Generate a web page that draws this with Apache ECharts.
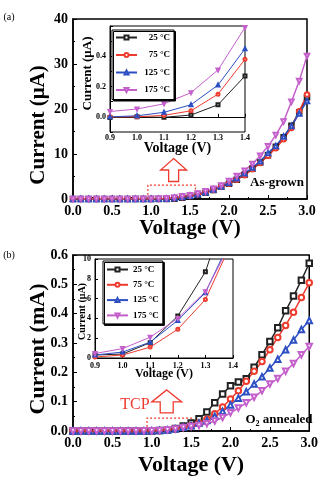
<!DOCTYPE html>
<html>
<head>
<meta charset="utf-8">
<title>I-V curves</title>
<script src="https://cdn.jsdelivr.net/npm/echarts@6.0.0/dist/echarts.min.js"></script>
<style>
  html, body { margin: 0; padding: 0; background: #fff; }
  #main { width: 321px; height: 477px; }
</style>
</head>
<body>
<div id="main"></div>
<script>
var temps = ['25 °C', '75 °C', '125 °C', '175 °C'];
var colors = ['#222222', '#ee3b2e', '#2d4fc4', '#c45fcb'];
var symbols = ['emptyRect', 'emptyCircle', 'emptyTriangle', 'emptyTriangle'];
var symbolTurn = [0, 0, 0, 180];

var volts = [0.0, 0.1, 0.2, 0.3, 0.4, 0.5, 0.6, 0.7, 0.8, 0.9, 1.0, 1.1, 1.2, 1.3, 1.4, 1.5,
             1.6, 1.7, 1.8, 1.9, 2.0, 2.1, 2.2, 2.3, 2.4, 2.5, 2.6, 2.7, 2.8, 2.9, 3.0];
var insetVolts = [0.9, 1.0, 1.1, 1.2, 1.3, 1.4];

// (a) as-grown, current in uA
var grown25 = [0, 0, 0, 0, 0, 0, 0, 0, 0, 0, 0, 0, 0.01, 0.08, 0.27, 0.55,
               0.95, 1.4, 2.0, 2.7, 3.4, 4.3, 5.4, 6.7, 8.1, 9.7, 11.6, 13.7, 16.3, 19.3, 22.6];
var grown75 = [0, 0, 0, 0, 0, 0, 0, 0, 0, 0, 0, 0.01, 0.04, 0.15, 0.38, 0.65,
               1.0, 1.45, 2.0, 2.7, 3.4, 4.3, 5.3, 6.6, 8.0, 9.6, 11.3, 13.3, 15.8, 19.5, 23.2];
var grown125 = [0, 0, 0, 0, 0, 0, 0, 0, 0, 0, 0.01, 0.03, 0.08, 0.21, 0.45, 0.7,
                1.05, 1.5, 2.1, 2.8, 3.6, 4.6, 5.7, 7.0, 8.4, 10.2, 11.8, 13.9, 16.2, 19.0, 21.8];
var grown175 = [0.01, 0.01, 0.01, 0.01, 0.02, 0.02, 0.02, 0.02, 0.03, 0.035, 0.05, 0.09, 0.16, 0.31, 0.59, 0.85,
                1.2, 1.7, 2.3, 3.0, 4.0, 5.1, 6.3, 7.8, 9.6, 11.7, 14.2, 17.2, 21.6, 26.2, 31.8];
// (a) inset, uA
var grownIn25 = [-0.005, 0.0, -0.003, 0.012, 0.08, 0.27];
var grownIn75 = [0.0, 0.0, 0.01, 0.04, 0.15, 0.38];
var grownIn125 = [0.0, 0.007, 0.03, 0.08, 0.21, 0.45];
var grownIn175 = [0.035, 0.052, 0.086, 0.16, 0.31, 0.59];

// (b) O2 annealed, current in mA
var ann25 = [0, 0, 0, 0, 0.0001, 0.0001, 0.0001, 0.0002, 0.0002, 0.0003, 0.0004, 0.0015, 0.0043, 0.0087, 0.017, 0.027,
             0.042, 0.065, 0.096, 0.126, 0.154, 0.167, 0.178, 0.217, 0.26, 0.305, 0.352, 0.41, 0.46, 0.514, 0.572];
var ann75 = [0, 0, 0, 0, 0, 0.0001, 0.0001, 0.0001, 0.0001, 0.0001, 0.0003, 0.0011, 0.0029, 0.0059, 0.012, 0.018,
             0.027, 0.04, 0.059, 0.082, 0.109, 0.137, 0.17, 0.204, 0.237, 0.277, 0.319, 0.36, 0.405, 0.455, 0.505];
var ann125 = [0, 0, 0, 0.0001, 0.0001, 0.0001, 0.0001, 0.0002, 0.0002, 0.0003, 0.0006, 0.0016, 0.0038, 0.0066, 0.0125, 0.018,
              0.027, 0.036, 0.05, 0.067, 0.089, 0.112, 0.134, 0.16, 0.185, 0.215, 0.245, 0.277, 0.31, 0.346, 0.377];
var ann175 = [0.0001, 0.0001, 0.0001, 0.0001, 0.0002, 0.0002, 0.0002, 0.0003, 0.0003, 0.00045, 0.00095, 0.0021, 0.004, 0.0067, 0.012, 0.015,
              0.019, 0.025, 0.034, 0.046, 0.062, 0.078, 0.096, 0.115, 0.137, 0.16, 0.179, 0.204, 0.23, 0.26, 0.288];
// (b) inset, uA
var annIn25 = [0.3, 0.4, 1.55, 4.25, 8.7, 17];
var annIn75 = [0.1, 0.3, 1.1, 2.9, 5.9, 12];
var annIn125 = [0.3, 0.6, 1.6, 3.8, 6.6, 12.5];
var annIn175 = [0.45, 0.95, 2.1, 4.0, 6.7, 12];

// tick labels shown on the as-grown inset's y axis
var insetATicks = ['0.0', '0.2', '0.4'];

// dotted "zoom" boxes on the main plots (data units)
var boxA = [[0.96, 0], [0.96, 3.1], [1.57, 3.1], [1.57, 0]];
var boxB = [[0.94, 0], [0.94, 0.044], [1.52, 0.044], [1.52, 0]];

var serif = 'Liberation Serif';

function pairs(xs, ys) {
  return xs.map(function (x, i) { return [x, ys[i]]; });
}

function curves(sets, xs, gi, size, width) {
  return sets.map(function (ys, k) {
    return {
      name: temps[k], type: 'line', xAxisIndex: gi, yAxisIndex: gi,
      data: pairs(xs, ys),
      symbol: symbols[k], symbolRotate: symbolTurn[k], symbolSize: size,
      color: colors[k],
      lineStyle: { color: colors[k], width: width },
      itemStyle: { color: colors[k], borderWidth: 1 },
      clip: true, silent: true, animation: false
    };
  });
}

function xAxisOf(gi, min, max, step, fs, margin, nameSize, nameGap) {
  return {
    type: 'value', gridIndex: gi, min: min, max: max, interval: step,
    axisLine: { show: true, lineStyle: { color: '#000', width: gi % 2 ? 1 : 1.5 } },
    axisTick: { show: true, inside: true, length: gi % 2 ? 3 : 4, lineStyle: { color: '#000' } },
    minorTick: { show: gi % 2 === 0, splitNumber: 2, length: 2, lineStyle: { color: '#000' } },
    splitLine: { show: false },
    axisLabel: {
      color: '#000', fontFamily: serif, fontWeight: 'bold', fontSize: fs, margin: margin,
      formatter: function (v) { return v.toFixed(1); }
    },
    name: 'Voltage (V)', nameLocation: 'middle', nameGap: nameGap, nameMoveOverlap: false,
    nameTextStyle: { color: '#000', fontFamily: serif, fontWeight: 'bold', fontSize: nameSize }
  };
}

function yAxisOf(gi, min, max, step, fs, margin, digits, nameSize, nameGap, pad) {
  return {
    type: 'value', gridIndex: gi, min: min, max: max, interval: step,
    axisLine: { show: true, lineStyle: { color: '#000', width: gi % 2 ? 1 : 1.5 } },
    axisTick: { show: true, inside: true, length: gi % 2 ? 3 : 4, lineStyle: { color: '#000' } },
    minorTick: { show: gi % 2 === 0, splitNumber: 2, length: 2, lineStyle: { color: '#000' } },
    splitLine: { show: false },
    axisLabel: {
      color: '#000', fontFamily: serif, fontWeight: 'bold', fontSize: fs, margin: margin,
      formatter: function (v) { return v.toFixed(digits); }
    },
    name: gi === 2 ? 'Current (mA)' : 'Current (μA)', nameLocation: 'middle', nameGap: nameGap,
    nameMoveOverlap: false,
    nameTextStyle: { color: '#000', fontFamily: serif, fontWeight: 'bold', fontSize: nameSize, padding: pad }
  };
}

function legendOf(left, top, gap, pad, align) {
  return {
    left: left, top: top, orient: 'vertical', data: temps, selectedMode: false,
    itemWidth: 21, itemHeight: 5, itemGap: gap, padding: pad,
    backgroundColor: '#fff', borderColor: '#000', borderWidth: 1,
    shadowColor: '#000', shadowBlur: 0, shadowOffsetX: 1.5, shadowOffsetY: 1.5,
    formatter: function (name) { return '{t|' + name + '}'; },
    textStyle: {
      color: '#000', fontFamily: serif, fontWeight: 'bold', fontSize: 9,
      rich: { t: { width: 28, align: align, fontFamily: serif, fontWeight: 'bold', fontSize: 9, color: '#000' } }
    }
  };
}

var insetA = yAxisOf(1, -0.1, 0.6, 0.1, 8, 4, 1, 13, 16, [0, 0, 0, 11]);
insetA.axisLabel.formatter = function (v) {
  var t = v.toFixed(1);
  return insetATicks.indexOf(t) >= 0 ? t : '';
};

var dotted = { color: '#ee3b2e', width: 1.2, type: [2, 2] };

var option = {
  backgroundColor: '#fff',
  animation: false,
  grid: [
    { left: 73, top: 19, width: 234, height: 180, show: true, borderColor: '#000', borderWidth: 1.5, backgroundColor: '#fff' },
    { left: 110, top: 26, width: 135, height: 106, show: true, borderColor: '#000', borderWidth: 1, backgroundColor: '#fff' },
    { left: 73, top: 255, width: 241, height: 178, show: true, borderColor: '#000', borderWidth: 1.5, backgroundColor: '#fff' },
    { left: 95, top: 259, width: 138, height: 99, show: true, borderColor: '#000', borderWidth: 1, backgroundColor: '#fff' }
  ],
  xAxis: [
    xAxisOf(0, 0, 3, 0.5, 14, 5, 21, 19),
    xAxisOf(1, 0.9, 1.4, 0.1, 8, 2, 14, 9),
    xAxisOf(2, 0, 3, 0.5, 14, 5, 22, 23),
    xAxisOf(3, 0.9, 1.4, 0.1, 8, 4, 12, 10)
  ],
  yAxis: [
    yAxisOf(0, 0, 40, 10, 14, 5, 0, 21, 24, [0, 32, 0, 0]),
    insetA,
    yAxisOf(2, 0, 0.6, 0.1, 14, 5, 1, 22, 24, [0, 12, 0, 0]),
    yAxisOf(3, 0, 10, 2, 8, 4, 0, 10, 8, [0, 6, 0, 0])
  ],
  legend: [
    legendOf(112, 30, 8.5, [3, 4, 5, 3], 'right'),
    legendOf(103, 261, 6.3, [4, 4, 4, 3], 'left')
  ],
  series: []
    .concat(curves([grown25, grown75, grown125, grown175], volts, 0, 4.5, 1.5))
    .concat(curves([grownIn25, grownIn75, grownIn125, grownIn175], insetVolts, 1, 3, 1))
    .concat(curves([ann25, ann75, ann125, ann175], volts, 2, 5.5, 1.5))
    .concat(curves([annIn25, annIn75, annIn125, annIn175], insetVolts, 3, 3, 1))
    .concat([
      { type: 'line', xAxisIndex: 0, yAxisIndex: 0, data: boxA, symbol: 'none', lineStyle: dotted, silent: true, z: 1 },
      { type: 'line', xAxisIndex: 2, yAxisIndex: 2, data: boxB, symbol: 'none', lineStyle: dotted, silent: true, z: 1 }
    ])
};

var chart = echarts.init(document.getElementById('main'), null, { renderer: 'canvas' });
chart.setOption(option);

// hollow up-arrows pointing at the insets
function arrow(tip, w, h, s, len) {
  return {
    type: 'polygon', x: tip[0], y: tip[1], z: 10,
    shape: { points: [[0, 0], [w, h], [s, h], [s, len], [-s, len], [-s, h], [-w, h]] },
    style: { fill: '#fff', stroke: '#ee3b2e', lineWidth: 1.3 }
  };
}
var tipA = chart.convertToPixel({ gridIndex: 0 }, [1.29, 9.0]);
var tipB = chart.convertToPixel({ gridIndex: 2 }, [1.19, 0.14]);

function label(x, y, text, size, weight, color) {
  return {
    type: 'text', x: x, y: y, z: 10,
    style: { text: text, fill: color || '#000', font: weight + ' ' + size + 'px "Liberation Serif"',
             textAlign: 'center', textVerticalAlign: 'middle' }
  };
}

chart.setOption({
  graphic: [
    arrow(tipA, 13, 11.5, 5, 23),
    arrow(tipB, 15, 12, 6.5, 23),
    label(9, 17, '(a)', 10, 'normal'),
    label(9, 255, '(b)', 10, 'normal'),
    label(277, 183, 'As-grown', 13, 'bold'),
    label(135, 405, 'TCP', 16, 'normal', '#ee3b2e'),
    {
      type: 'text', x: 279, y: 420, z: 10,
      style: {
        text: '{a|O}{s|2}{a| annealed}', textAlign: 'center', textVerticalAlign: 'middle',
        rich: {
          a: { fontFamily: serif, fontWeight: 'bold', fontSize: 13, fill: '#000' },
          s: { fontFamily: serif, fontWeight: 'bold', fontSize: 8, fill: '#000', padding: [7, 0, 0, 0] }
        }
      }
    }
  ]
});
</script>
</body>
</html>
